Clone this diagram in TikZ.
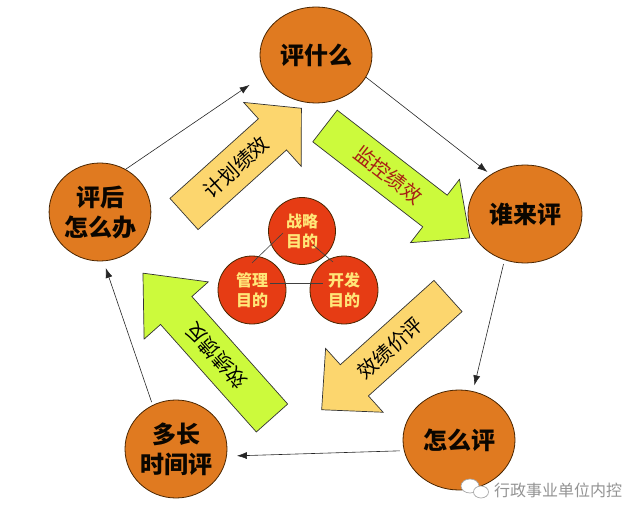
\documentclass[tikz,border=0pt]{standalone}
\usepackage{fontspec}
\newfontfamily\cjk{Noto Sans CJK SC}
\usetikzlibrary{arrows.meta, calc, shapes.geometric}
\definecolor{evalc1}{RGB}{224,122,32}
\definecolor{evalc2}{RGB}{230,60,20}
\definecolor{evalc3}{RGB}{252,214,110}
\definecolor{evalc4}{RGB}{204,250,60}
\definecolor{evalc5}{RGB}{255,230,120}
\definecolor{evalc6}{RGB}{168,30,20}
\definecolor{evalc7}{RGB}{74,37,0}

\begin{document}
\begin{tikzpicture}[x=1pt, y=-1pt,
	stage/.style={draw=evalc7, line width=0.8pt, ellipse, fill=evalc1, inner sep=0pt, align=center, text=black!85!evalc7, font=\cjk\bfseries\fontsize{24}{30}\selectfont},
	goal/.style={draw=evalc7, line width=0.8pt, circle, fill=evalc2, inner sep=0pt, minimum size=67pt, align=center, text=evalc5, font=\cjk\bfseries\fontsize{16}{20}\selectfont},
	blockarrow/.style={draw=black!80, line width=0.7pt},
	arrowlabel/.style={transform shape, inner sep=0pt, font=\cjk\fontsize{20}{24}\selectfont},
	flow/.style={-{Latex[length=10pt, width=7pt]}, line width=0.6pt, black!85}]
					\useasboundingbox (0,0) rectangle (643,516);
					
					\node[stage, minimum width=112pt, minimum height=96pt] (pingshenme) at (316,55) {评什么};
					\node[stage, minimum width=114pt, minimum height=98pt] (shuilai) at (525,214) {谁来评};
					\node[stage, minimum width=112pt, minimum height=100pt] (zenme) at (459,440) {怎么评};
					\node[stage, minimum width=102pt, minimum height=98pt] (duochang) at (176,449) {多长\\时间评};
					\node[stage, minimum width=100pt, minimum height=98pt] (pinghou) at (100,212) {评后\\怎么办};
					
					\begin{scope}[shift={(184,214)}, rotate=42]
					\draw[blockarrow, fill=evalc3] (0,-21) -- (119,-21) -- (119,-43) -- (158,0) -- (119,43) -- (119,21) -- (0,21) -- cycle;
					\node[arrowlabel] (jihua) at (70,0) {计划绩效};
					\end{scope}
					\begin{scope}[shift={(325,126)}, rotate=-37.7]
					\draw[blockarrow, fill=evalc4] (0,-20) -- (139,-20) -- (139,-40) -- (183,0) -- (139,40) -- (139,20) -- (0,20) -- cycle;
					\node[arrowlabel, text=evalc6] (jiankong) at (80,0) {监控绩效};
					\end{scope}
					\begin{scope}[shift={(448,296)}, rotate=222]
					\draw[blockarrow, fill=evalc3] (0,-21) -- (126,-21) -- (126,-43) -- (170,0) -- (126,43) -- (126,21) -- (0,21) -- cycle;
					\node[arrowlabel, rotate=180] (pingjia) at (78,0) {效绩价评};
					\end{scope}
					\begin{scope}[shift={(272,418)}, rotate=131.7]
					\draw[blockarrow, fill=evalc4] (0,-21) -- (144,-21) -- (144,-43) -- (194,0) -- (144,43) -- (144,21) -- (0,21) -- cycle;
					\node[arrowlabel] (fankui) at (84,0) {效绩馈反};
					\end{scope}
					
					\node[goal] (zhanlue) at (302,231) {战略\\目的};
					\node[goal, minimum size=68pt] (guanli) at (252,290) {管理\\目的};
					\node[goal, minimum size=68pt] (kaifa) at (344,290) {开发\\目的};
					
					\draw[black!75, line width=0.6pt] ($(zhanlue)+(-19,2)$) -- ($(guanli)+(0,-27)$);
					\draw[black!75, line width=0.6pt] ($(guanli)+(18,-7)$) -- ($(kaifa)+(-21,-7)$);
					\draw[black!75, line width=0.6pt] ($(zhanlue)+(11,14)$) -- ($(kaifa)+(-11,-28)$);
					
					\draw[flow, shorten >=18pt] (pinghou.59) -- (pingshenme.201);
					\draw[flow, shorten >=4pt] (pingshenme.-24) -- (shuilai.131);
					\draw[flow, shorten <=4pt, shorten >=6pt] (shuilai.246) -- (zenme.74);
					\draw[flow, shorten <=4pt, shorten >=10pt] (zenme.191) -- (duochang.352);
					\draw[flow, shorten <=3pt, shorten >=7pt] (duochang.118) -- (pinghou.274);
					
					\draw[gray!70, line width=0.7pt, fill=white] (470,486) ellipse (9 and 7);
					\draw[gray!70, line width=0.7pt, fill=white] (481,492) ellipse (7.5 and 6);
					\node[text=gray!85, inner sep=0pt, font=\cjk\fontsize{16}{16}\selectfont] (wm) at (558,490) {行政事业单位内控};
					\end{tikzpicture}
\end{document}
